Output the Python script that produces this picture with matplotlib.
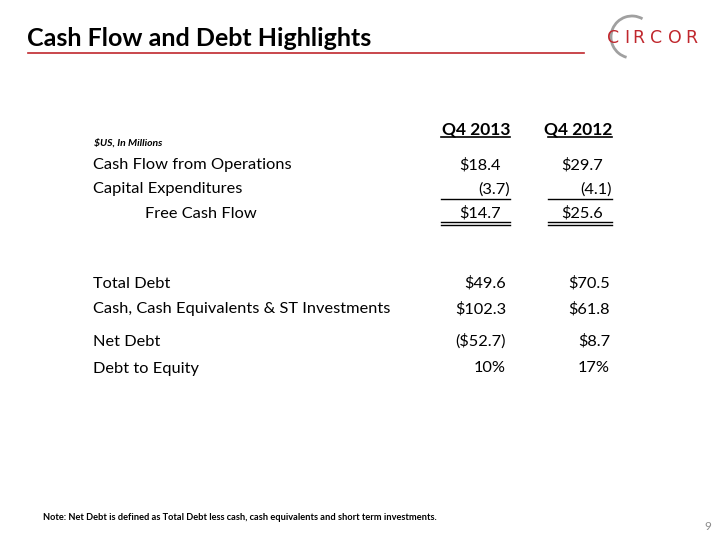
import matplotlib.pyplot as plt
from matplotlib.patches import Arc

plt.rcParams['font.family'] = ['Lato', 'DejaVu Sans']

title = "Cash Flow and Debt Highlights"
col_headers = ["Q4 2013", "Q4 2012"]
units_note = "$US, In Millions"

cf_labels = ["Cash Flow from Operations", "Capital Expenditures", "Free Cash Flow"]
cf_2013 = ["$18.4", "(3.7)", "$14.7"]
cf_2012 = ["$29.7", "(4.1)", "$25.6"]

debt_labels = ["Total Debt", "Cash, Cash Equivalents & ST Investments", "Net Debt", "Debt to Equity"]
debt_2013 = ["$49.6", "$102.3", "($52.7)", "10%"]
debt_2012 = ["$70.5", "$61.8", "$8.7", "17%"]

footnote = "Note: Net Debt is defined as Total Debt less cash, cash equivalents and short term investments."
page_no = "9"
logo = "CIRCOR"

RED = "#C0272D"


def main():
    fig = plt.figure(figsize=(7.2, 5.4), dpi=100)
    ax = fig.add_axes([0, 0, 1, 1])
    ax.set_xlim(0, 720)
    ax.set_ylim(540, 0)
    ax.axis("off")

    # title + rule
    ax.text(27, 38, title, fontsize=18, fontweight="bold", va="center", ha="left")
    ax.plot([28, 584], [53, 53], color=RED, lw=1.2)

    # logo - spread letters out by hand
    ax.add_patch(Arc((632, 37), 42, 42, theta1=105, theta2=300, color="#a0a0a0", lw=2))
    letter_x = [613.5, 626.5, 638, 656.5, 675, 691.5]
    for ch, x in zip(logo, letter_x):
        ax.text(x, 38, ch, color=RED, fontsize=12.5, ha="center", va="center",
                family="DejaVu Sans")

    col_x = [510, 612]
    fs = 11.8
    dy = 1.5  # va=center sits a bit high for these rows
    # headers
    for x, h in zip(col_x, col_headers):
        ax.text(x, 128 + dy, h, fontsize=12.5, fontweight="bold", ha="right", va="center")
    ax.plot([441, 510], [137, 137], color="black", lw=1.2)
    ax.plot([548, 612], [137, 137], color="black", lw=1.2)
    ax.text(94, 143, units_note, fontsize=7.5, fontweight="bold", style="italic", va="center")

    # cash flow block, positives sit left of the closing paren
    cf_y = [164, 188, 212]
    for i, lab in enumerate(cf_labels):
        x = 145 if i == 2 else 93
        ax.text(x, cf_y[i] + dy, lab, fontsize=fs, va="center", ha="left")
        for cx, v in zip(col_x, [cf_2013[i], cf_2012[i]]):
            off = 0 if v.endswith(")") else 9
            ax.text(cx - off, cf_y[i] + dy, v, fontsize=fs, va="center", ha="right")
    for x0, x1 in [(441, 510), (548, 612)]:
        ax.plot([x0, x1], [199, 199], color="black", lw=1)
        ax.plot([x0, x1], [222, 222], color="black", lw=1)
        ax.plot([x0, x1], [225, 225], color="black", lw=1)

    # debt block
    debt_y = [282, 308, 340, 367]
    for i, lab in enumerate(debt_labels):
        ax.text(93, debt_y[i] + dy, lab, fontsize=fs, va="center", ha="left")
        ax.text(506, debt_y[i] + dy, debt_2013[i], fontsize=fs, va="center", ha="right")
        ax.text(610, debt_y[i] + dy, debt_2012[i], fontsize=fs, va="center", ha="right")

    ax.text(43, 518, footnote, fontsize=6.7, fontweight="bold", va="center")
    ax.text(711, 527, page_no, fontsize=8.5, color="#8c8c8c", va="center", ha="right")

    fig.savefig("out.png", dpi=100)


if __name__ == "__main__":
    main()
